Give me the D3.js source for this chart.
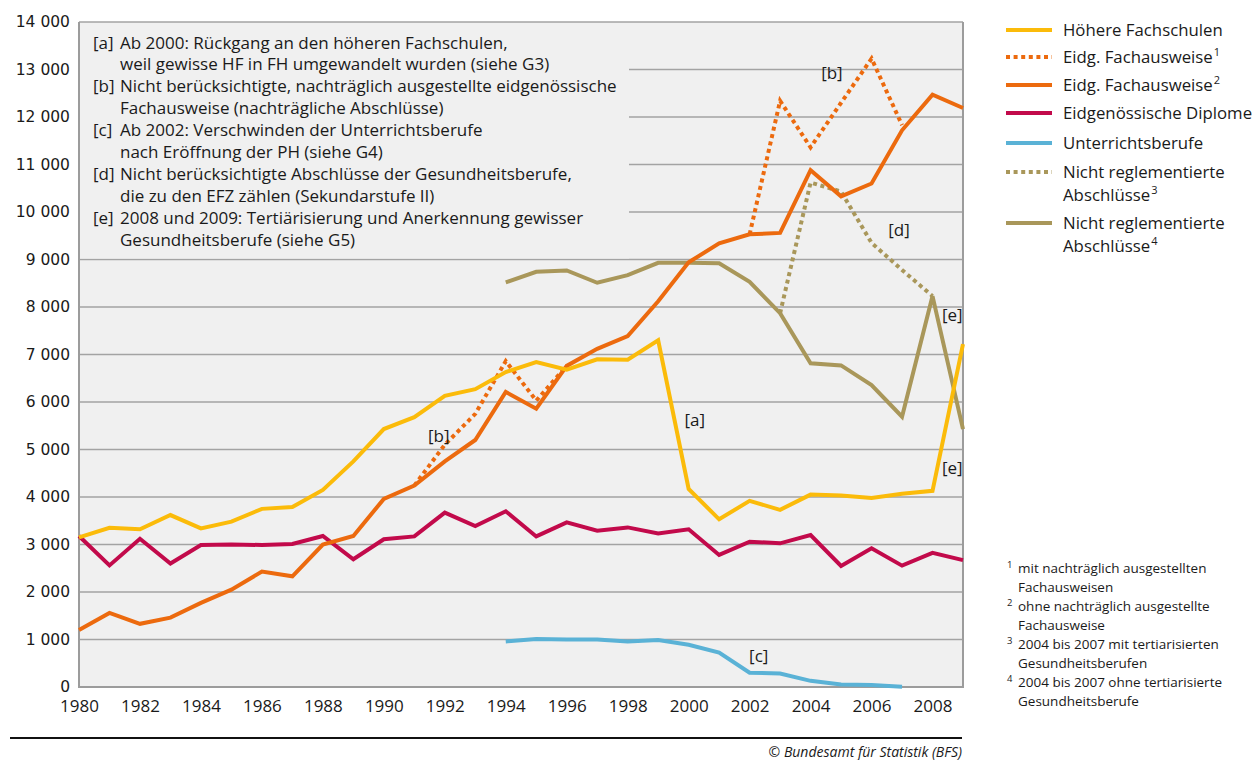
<!DOCTYPE html>
<html>
<head>
<meta charset="utf-8">
<script src="https://cdn.jsdelivr.net/npm/d3@7"></script>
<style>
  body { margin: 0; background: #fff; }
  svg { font-family: "Open Sans", sans-serif; }
</style>
</head>
<body>
<svg width="1256" height="760"></svg>
<script>
// years 1980..2009
const years = d3.range(1980, 2010);
const yearTicks = d3.range(1980, 2010, 2);
const yTicks = d3.range(0, 14001, 1000);

// Höhere Fachschulen
const hf = [3150, 3350, 3320, 3620, 3340, 3480, 3750, 3790, 4150, 4750,
  5430, 5680, 6130, 6270, 6630, 6840, 6680, 6900, 6890, 7300,
  4170, 3530, 3920, 3730, 4050, 4030, 3980, 4070, 4130, 7220];
// Eidg. Fachausweise (ohne nachträgliche)
const efa2 = [1200, 1560, 1330, 1460, 1770, 2050, 2430, 2330, 3000, 3180,
  3960, 4240, 4750, 5200, 6210, 5860, 6760, 7120, 7390, 8120,
  8940, 9340, 9530, 9560, 10880, 10330, 10600, 11720, 12470, 12190];
// Eidg. Fachausweise (mit nachträglichen) – only where different
const efa1 = [null, null, null, null, null, null, null, null, null, null,
  null, 4240, 5100, 5750, 6860, 6030, 6760, null, null, null,
  null, null, 9530, 12340, 11360, 12300, 13230, 11830, null, null];
// Eidgenössische Diplome
const dipl = [3180, 2560, 3120, 2600, 2990, 3000, 2990, 3010, 3180, 2690,
  3110, 3170, 3670, 3390, 3700, 3170, 3465, 3290, 3360, 3230,
  3320, 2780, 3060, 3025, 3200, 2550, 2920, 2555, 2825, 2670];
// Unterrichtsberufe
const ub = [null, null, null, null, null, null, null, null, null, null,
  null, null, null, null, 960, 1010, 1000, 1000, 960, 990,
  890, 723, 300, 285, 130, 55, 40, 5, null, null];
// Nicht reglementierte Abschlüsse (ohne tertiarisierte)
const nr4 = [null, null, null, null, null, null, null, null, null, null,
  null, null, null, null, 8520, 8740, 8770, 8510, 8670, 8930,
  8930, 8920, 8530, 7870, 6815, 6770, 6355, 5690, 8230, 5430];
// Nicht reglementierte Abschlüsse (mit tertiarisierten)
const nr3 = [null, null, null, null, null, null, null, null, null, null,
  null, null, null, null, null, null, null, null, null, null,
  null, null, null, 7870, 10620, 10430, 9350, 8780, 8230, null];

const colors = {
  hf: "#fbbb0a", efa: "#ec6a0e", dipl: "#c20a4b", ub: "#5ab2d6", nr: "#a9975a"
};

const series = [
  { key: "nr3", values: nr3, color: colors.nr, dash: "4,3.6" },
  { key: "nr4", values: nr4, color: colors.nr },
  { key: "ub", values: ub, color: colors.ub },
  { key: "dipl", values: dipl, color: colors.dipl },
  { key: "efa1", values: efa1, color: colors.efa, dash: "4,3.6" },
  { key: "efa2", values: efa2, color: colors.efa },
  { key: "hf", values: hf, color: colors.hf }
];

const legendItems = [
  { lines: ["Höhere Fachschulen"], color: colors.hf },
  { lines: ["Eidg. Fachausweise"], sup: "1", color: colors.efa, dash: "4,3.6" },
  { lines: ["Eidg. Fachausweise"], sup: "2", color: colors.efa },
  { lines: ["Eidgenössische Diplome"], color: colors.dipl },
  { lines: ["Unterrichtsberufe"], color: colors.ub },
  { lines: ["Nicht reglementierte", "Abschlüsse"], sup: "3", color: colors.nr, dash: "4,3.6" },
  { lines: ["Nicht reglementierte", "Abschlüsse"], sup: "4", color: colors.nr }
];

const notes = [
  ["[a]", "Ab 2000: Rückgang an den höheren Fachschulen,", "weil gewisse HF in FH umgewandelt wurden (siehe G3)"],
  ["[b]", "Nicht berücksichtigte, nachträglich ausgestellte eidgenössische", "Fachausweise (nachträgliche Abschlüsse)"],
  ["[c]", "Ab 2002: Verschwinden der Unterrichtsberufe", "nach Eröffnung der PH (siehe G4)"],
  ["[d]", "Nicht berücksichtigte Abschlüsse der Gesundheitsberufe,", "die zu den EFZ zählen (Sekundarstufe II)"],
  ["[e]", "2008 und 2009: Tertiärisierung und Anerkennung gewisser", "Gesundheitsberufe (siehe G5)"]
];

const footnotes = [
  ["1", "mit nachträglich ausgestellten", "Fachausweisen"],
  ["2", "ohne nachträglich ausgestellte", "Fachausweise"],
  ["3", "2004 bis 2007 mit tertiarisierten", "Gesundheitsberufen"],
  ["4", "2004 bis 2007 ohne tertiarisierte", "Gesundheitsberufe"]
];

// in-chart labels: [text, year, value]
const marks = [
  ["[b]", 1991.8, 5250], ["[a]", 2000.2, 5580], ["[b]", 2004.7, 12890],
  ["[d]", 2006.9, 9590], ["[e]", 2008.65, 7800], ["[e]", 2008.65, 4580],
  ["[c]", 2002.3, 630]
];

const svg = d3.select("svg");
const mLeft = 79, mRight = 963, mTop = 22, mBottom = 687;

const x = d3.scaleLinear().domain([1980, 2009]).range([mLeft, mRight]);
const y = d3.scaleLinear().domain([0, 14000]).range([mBottom, mTop]);
const fmtY = (d) => d3.format(",")(d).replace(",", " ");

// plot background
svg.append("rect")
  .attr("x", mLeft).attr("y", mTop)
  .attr("width", mRight - mLeft).attr("height", mBottom - mTop)
  .attr("fill", "#f0f0f0");

// gridlines
svg.append("g")
  .selectAll("line")
  .data(yTicks.filter((d) => d > 0))
  .join("line")
  .attr("x1", mLeft).attr("x2", mRight)
  .attr("y1", (d) => y(d)).attr("y2", (d) => y(d))
  .attr("stroke", "#a3a3a3").attr("stroke-width", 1.5);

// annotation box covers gridlines in the top-left
svg.append("rect")
  .attr("x", mLeft + 1).attr("y", y(14000) + 1)
  .attr("width", 628 - mLeft).attr("height", y(9000) - y(14000) - 2)
  .attr("fill", "#f0f0f0");

const noteG = svg.append("g").attr("font-size", 17).attr("fill", "#1a1a1a");
notes.forEach((n, i) => {
  const base = 48.5 + i * 43.8;
  noteG.append("text").attr("x", 93).attr("y", base).text(n[0]);
  noteG.append("text").attr("x", 120).attr("y", base).text(n[1]);
  noteG.append("text").attr("x", 120).attr("y", base + 21.9).text(n[2]);
});

// axes
const yAxis = d3.axisLeft(y).tickValues(yTicks).tickSize(0).tickPadding(9).tickFormat(fmtY);
svg.append("g")
  .attr("transform", `translate(${mLeft},0)`)
  .call(yAxis)
  .call((g) => g.select(".domain").remove())
  .selectAll("text")
  .attr("font-size", 15.5).attr("fill", "#1a1a1a").attr("font-family", "DejaVu Sans, sans-serif");

const xAxis = d3.axisBottom(x).tickValues(yearTicks).tickSize(0).tickPadding(13).tickFormat(d3.format("d"));
svg.append("g")
  .attr("transform", `translate(0,${mBottom})`)
  .call(xAxis)
  .call((g) => g.select(".domain").remove())
  .selectAll("text")
  .attr("font-size", 17).attr("fill", "#1a1a1a").attr("font-family", "Open Sans, sans-serif");

// axis frame lines
svg.append("line").attr("x1", mLeft).attr("x2", mLeft).attr("y1", mTop).attr("y2", mBottom + 1)
  .attr("stroke", "#9c9c9c").attr("stroke-width", 2);
svg.append("line").attr("x1", mRight).attr("x2", mRight).attr("y1", mTop).attr("y2", mBottom + 1)
  .attr("stroke", "#9c9c9c").attr("stroke-width", 2);
svg.append("line").attr("x1", mLeft).attr("x2", mRight).attr("y1", mBottom).attr("y2", mBottom)
  .attr("stroke", "#9c9c9c").attr("stroke-width", 2);

// lines
const line = d3.line()
  .defined((d) => d[1] != null)
  .x((d) => x(d[0]))
  .y((d) => y(d[1]));

svg.append("g")
  .selectAll("path")
  .data(series)
  .join("path")
  .attr("d", (s) => line(years.map((yr, i) => [yr, s.values[i]])))
  .attr("fill", "none")
  .attr("stroke", (s) => s.color)
  .attr("stroke-width", 4)
  .attr("stroke-linejoin", "miter")
  .attr("stroke-dasharray", (s) => s.dash || null);

// in-chart labels
svg.append("g")
  .selectAll("text")
  .data(marks)
  .join("text")
  .attr("x", (d) => x(d[1]))
  .attr("y", (d) => y(d[2]))
  .attr("text-anchor", "middle")
  .attr("dominant-baseline", "middle")
  .attr("font-size", 17).attr("fill", "#1a1a1a")
  .text((d) => d[0]);

// legend
const lg = svg.append("g").attr("font-size", 16.8).attr("fill", "#1a1a1a");
const legendY = [30, 57, 85, 113, 143, 172, 223];
legendItems.forEach((it, i) => {
  const ly = legendY[i];
  lg.append("line")
    .attr("x1", 1006).attr("x2", 1052).attr("y1", ly).attr("y2", ly)
    .attr("stroke", it.color).attr("stroke-width", 4)
    .attr("stroke-dasharray", it.dash || null);
  it.lines.forEach((t, j) => {
    const tx = lg.append("text").attr("x", 1063).attr("y", ly + 6 + j * 23).text(t);
    if (j === it.lines.length - 1 && it.sup) {
      tx.append("tspan").attr("font-size", 11).attr("dy", -7).attr("dx", 1).text(it.sup);
    }
  });
});

// footnotes
const fg = svg.append("g").attr("font-size", 13.5).attr("fill", "#1a1a1a");
footnotes.forEach((f, i) => {
  const base = 573 + i * 38;
  fg.append("text").attr("x", 1007).attr("y", base - 5).attr("font-size", 9.5).text(f[0]);
  fg.append("text").attr("x", 1018).attr("y", base).text(f[1]);
  fg.append("text").attr("x", 1018).attr("y", base + 19).text(f[2]);
});

// bottom rule and source
svg.append("line").attr("x1", 10).attr("x2", 962).attr("y1", 738).attr("y2", 738)
  .attr("stroke", "#111").attr("stroke-width", 2);
svg.append("text")
  .attr("x", 962).attr("y", 757)
  .attr("text-anchor", "end")
  .attr("font-size", 14).attr("font-style", "italic").attr("fill", "#1a1a1a")
  .text("© Bundesamt für Statistik (BFS)");
</script>
</body>
</html>
